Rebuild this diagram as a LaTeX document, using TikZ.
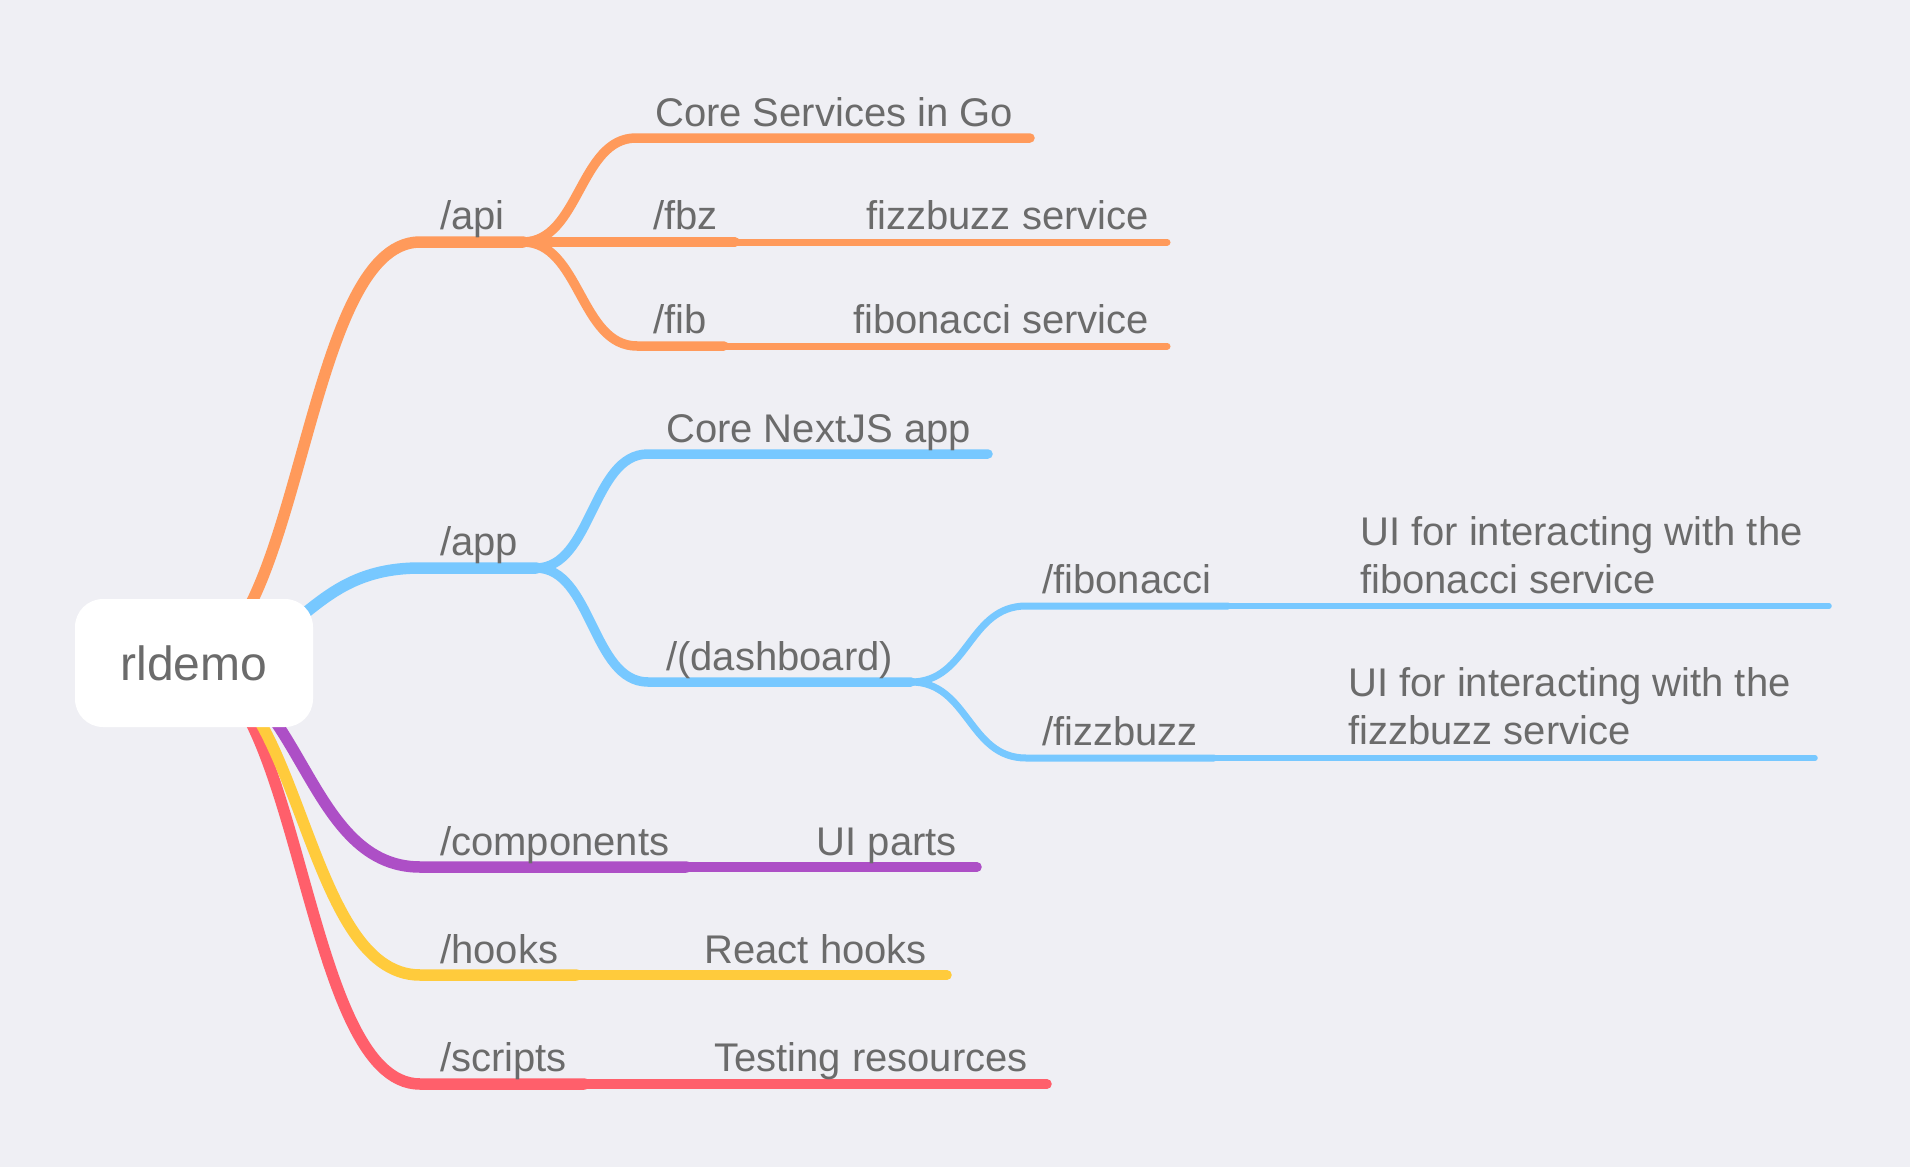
\documentclass[tikz,border=0pt]{standalone}
\usepackage{fontspec}
\setmainfont{Liberation Sans}
\usetikzlibrary{calc}
\definecolor{bgc}{HTML}{EFEFF4}
\definecolor{txtgray}{HTML}{6B6B6B}
\definecolor{corange}{HTML}{FF9A5B}
\definecolor{cblue}{HTML}{77C8FF}
\definecolor{cpurple}{HTML}{AD4FC6}
\definecolor{cyellow}{HTML}{FFCB3C}
\definecolor{cred}{HTML}{FF5F6B}
\tikzset{
  lvA/.style={line width=11.5pt, line cap=round},
  lvB/.style={line width=9.5pt, line cap=round},
  lvC/.style={line width=7pt, line cap=round},
  lvD/.style={line width=5.5pt, line cap=round},
  lbl/.style={text=txtgray, font=\fontsize{40}{48}\selectfont, inner sep=0pt, anchor=base west},
  lblr/.style={lbl, anchor=base east},
  mcurve/.style={to path={.. controls ($(\tikztostart)!0.5!(\tikztostart -| \tikztotarget)$) and ($(\tikztotarget)!0.5!(\tikztotarget -| \tikztostart)$) .. (\tikztotarget)}},
  rootbox/.style={fill=white, rounded corners=28pt, minimum width=238pt, minimum height=128pt, inner sep=0pt, text=txtgray, font=\fontsize{48}{56}\selectfont}
}
\begin{document}
\begin{tikzpicture}[x=1pt,y=-1pt]
\fill[bgc] (0,0) rectangle (1910,1167);
\useasboundingbox (0,0) rectangle (1910,1167);

% coordinates
\coordinate (R) at (194,663);
\coordinate (Rc) at (184,663);
% orange
\coordinate (A0) at (420,242); \coordinate (A1) at (523,242);
\coordinate (CS0) at (636,138); \coordinate (CS1) at (1030,138);
\coordinate (F1) at (735,242); \coordinate (F2) at (1167,242);
\coordinate (FI0) at (637,346); \coordinate (FI1) at (724,346); \coordinate (FI2) at (1167,346);
% blue
\coordinate (P0) at (420,568); \coordinate (P1) at (536,568);
\coordinate (NJ0) at (648,454); \coordinate (NJ1) at (988,454);
\coordinate (D0) at (648,682); \coordinate (D1) at (911,682);
\coordinate (FB0) at (1026,606); \coordinate (FB1) at (1228,606); \coordinate (FB2) at (1829,606);
\coordinate (FZ0) at (1026,758); \coordinate (FZ1) at (1214,758); \coordinate (FZ2) at (1815,758);
% purple
\coordinate (C0) at (420,867); \coordinate (C1) at (686,867); \coordinate (C2) at (977,867);
% yellow
\coordinate (H0) at (420,975); \coordinate (H1) at (576,975); \coordinate (H2) at (947,975);
% red
\coordinate (S0) at (420,1084); \coordinate (S1) at (584,1084); \coordinate (S2) at (1047,1084);

% orange branch
\draw[corange, lvA] (Rc) to[mcurve] (A0) -- (A1);
\draw[corange, lvB] (A1) to[mcurve] (CS0) -- (CS1);
\draw[corange, lvB] (A1) -- (F1);
\draw[corange, lvC] (F1) -- (F2);
\draw[corange, lvB] (A1) to[mcurve] (FI0) -- (FI1);
\draw[corange, lvC] (FI1) -- (FI2);
% blue branch
\draw[cblue, lvA] (Rc) to[mcurve] (P0) -- (P1);
\draw[cblue, lvB] (P1) to[mcurve] (NJ0) -- (NJ1);
\draw[cblue, lvB] (P1) to[mcurve] (D0) -- (D1);
\draw[cblue, lvC] (D1) to[mcurve] (FB0) -- (FB1);
\draw[cblue, lvD] (FB1) -- (FB2);
\draw[cblue, lvC] (D1) to[mcurve] (FZ0) -- (FZ1);
\draw[cblue, lvD] (FZ1) -- (FZ2);
% red, yellow, purple
\draw[cred, lvA] (Rc) to[mcurve] (S0) -- (S1);
\draw[cred, lvB] (S1) -- (S2);
\draw[cyellow, lvA] (Rc) to[mcurve] (H0) -- (H1);
\draw[cyellow, lvB] (H1) -- (H2);
\draw[cpurple, lvA] (Rc) to[mcurve] (C0) -- (C1);
\draw[cpurple, lvB] (C1) -- (C2);

% root
\node[rootbox] (root) at (R) {rldemo};

% labels
\node[lbl] (tapi) at (440,229) {/api};
\node[lbl] (tcs) at (655,126) {Core Services in Go};
\node[lbl] (tfbz) at (653,229) {/fbz};
\node[lblr] (tfbzs) at (1149,229) {fizzbuzz service};
\node[lbl] (tfib) at (653,333) {/fib};
\node[lblr] (tfibs) at (1149,333) {fibonacci service};

\node[lbl] (tapp) at (440,555) {/app};
\node[lbl] (tnj) at (666,442) {Core NextJS app};
\node[lbl] (tdash) at (666,670) {/(dashboard)};
\node[lbl] (tfb) at (1042,593) {/fibonacci};
\node[lbl] (tfb1) at (1360,545) {UI for interacting with the};
\node[lbl] (tfb2) at (1360,593) {fibonacci service};
\node[lbl] (tfz) at (1042,745) {/fizzbuzz};
\node[lbl] (tfz1) at (1348,696) {UI for interacting with the};
\node[lbl] (tfz2) at (1348,744) {fizzbuzz service};

\node[lbl] (tcomp) at (440,855) {/components};
\node[lblr] (tuip) at (957,855) {UI parts};
\node[lbl] (thooks) at (440,963) {/hooks};
\node[lblr] (trh) at (927,963) {React hooks};
\node[lbl] (tscr) at (440,1071) {/scripts};
\node[lblr] (ttr) at (1028,1071) {Testing resources};
\end{tikzpicture}
\end{document}
